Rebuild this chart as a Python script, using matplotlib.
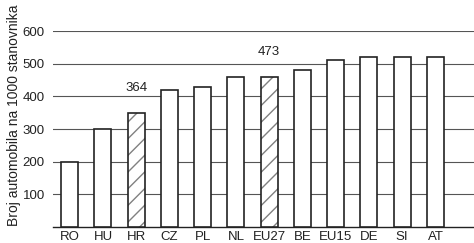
import matplotlib.pyplot as plt
import numpy as np

plt.rcParams['font.family'] = ['Liberation Sans', 'DejaVu Sans']
plt.rcParams['hatch.linewidth'] = 1.0

countries = ['RO', 'HU', 'HR', 'CZ', 'PL', 'NL', 'EU27', 'BE', 'EU15', 'DE', 'SI', 'AT']
cars = [200, 300, 350, 420, 430, 460, 460, 480, 510, 520, 520, 520]
hatched = ['HR', 'EU27']
labels = {'HR': '364', 'EU27': '473'}

fig = plt.figure(figsize=(4.74, 2.43), dpi=100)
ax = fig.add_axes([0.112, 0.066, 0.888, 0.806])

x = np.arange(len(countries))
for i, (c, v) in enumerate(zip(countries, cars)):
    h = '//' if c in hatched else None
    b = ax.bar(i, v, width=0.51, facecolor='white', edgecolor='#222222',
               linewidth=1.2, hatch=h, zorder=3)
    if h:
        b[0]._hatch_color = (0.5, 0.5, 0.5, 1)
    if c in labels:
        ax.text(i, v + 58, labels[c], ha='center', va='bottom',
                fontsize=9.5, color='#222222')

ax.set_xlim(-0.5, 12.16)
ax.set_ylim(0, 600)
ax.set_yticks([100, 200, 300, 400, 500, 600])
ax.yaxis.grid(True, color='#555555', linewidth=0.8, zorder=0)
ax.set_axisbelow(True)
ax.set_xticks(x)
ax.set_xticklabels(countries)
ax.tick_params(axis='both', length=0, labelsize=9.5, colors='#222222')
ax.tick_params(axis='x', pad=3)
ax.tick_params(axis='y', pad=6)
for s in ['left', 'right', 'top']:
    ax.spines[s].set_visible(False)
ax.spines['bottom'].set_color('#222222')
ax.spines['bottom'].set_linewidth(1.0)
ax.set_ylabel('Broj automobila na 1000 stanovnika', fontsize=10, color='#222222')
ax.yaxis.set_label_coords(-0.076, 0.57)

fig.savefig('out.png', dpi=100)
